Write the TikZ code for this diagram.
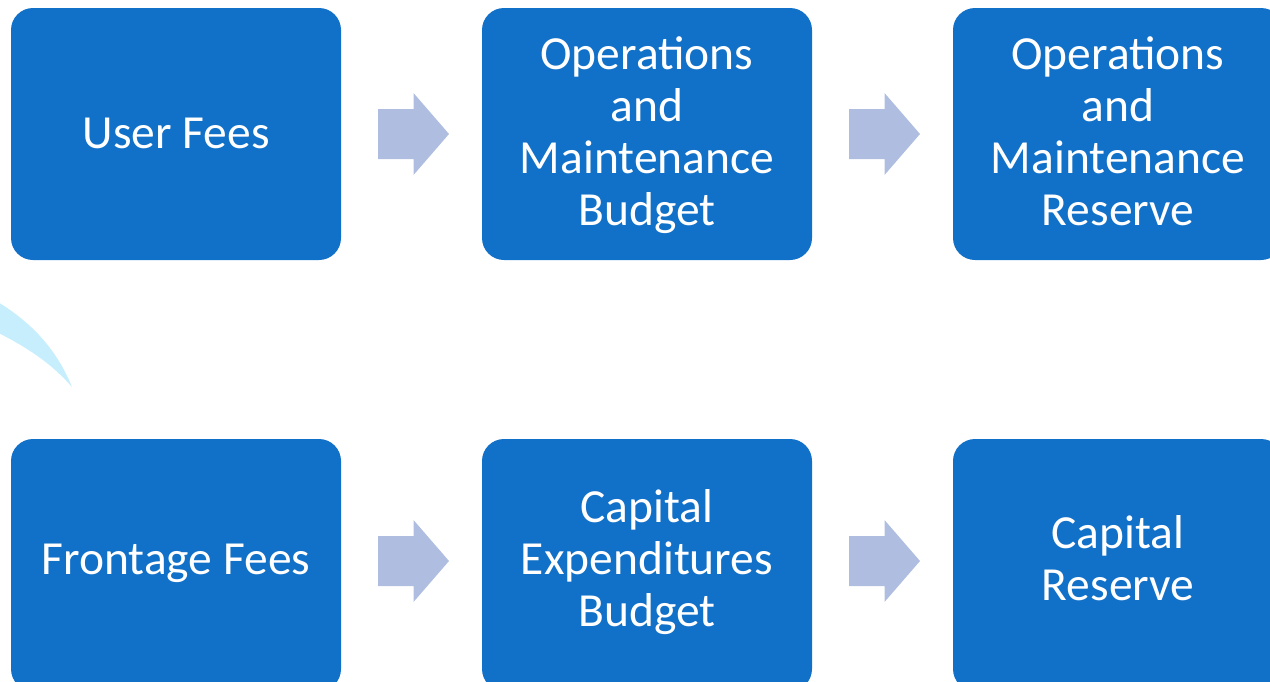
\documentclass[tikz,border=0pt]{standalone}
\usepackage{fontspec}
\setmainfont{Carlito}
\usetikzlibrary{calc}
\definecolor{boxblue}{HTML}{1170C8}
\definecolor{arrowfill}{HTML}{AEBDE0}
\definecolor{swoosh}{HTML}{C7EEFC}
\begin{document}
\begin{tikzpicture}[x=1pt,y=-1pt,
  box/.style={draw=none, fill=boxblue, rounded corners=22pt, minimum width=330pt, minimum height=252pt, inner sep=0pt, outer sep=0pt},
  txt/.style={text=white, align=center, inner sep=0pt, anchor=base, font=\fontsize{47.5}{51.8}\selectfont}]
\useasboundingbox (0,0) rectangle (1270,681);
\clip (0,0) rectangle (1270,681);
% light swoosh at left
\fill[swoosh] (-20,292) .. controls (25,315) and (55,345) .. (72,387) .. controls (50,362) and (25,345) .. (-20,324) -- cycle;
% top row
\node[box] (b1) at (176,134) {};
\node[box] (b2) at (647,134) {};
\node[box] (b3) at (1118,134) {};
\node[txt] (t1) at (176,148) {User Fees};
\node[txt] (t2) at (647,225) {Operations\\and\\Maintenance\\Budget};
\node[txt] (t3) at (1118,225) {Operations\\and\\Maintenance\\Reserve};
% bottom row
\node[box] (b4) at (176,565) {};
\node[box] (b5) at (647,565) {};
\node[box] (b6) at (1118,565) {};
\node[txt] (t4) at (176,574) {Frontage Fees};
\node[txt] (t5) at (647,626) {Capital\\Expenditures\\Budget};
\node[txt] (t6) at (1118,600.5) {Capital\\Reserve};
% block arrows
\coordinate (a1) at ($(b1.east)!0.5!(b2.west)+(2,0)$);
\coordinate (a2) at ($(b2.east)!0.5!(b3.west)+(2,0)$);
\coordinate (a3) at ($(b4.east)!0.5!(b5.west)+(2,-4)$);
\coordinate (a4) at ($(b5.east)!0.5!(b6.west)+(2,-4)$);
\foreach \c in {a1,a2,a3,a4}{
  \fill[arrowfill] ($(\c)+(-35.5,-25)$) -- ($(\c)+(0,-25)$) -- ($(\c)+(0,-41)$) -- ($(\c)+(35.5,0)$)
    -- ($(\c)+(0,41)$) -- ($(\c)+(0,25)$) -- ($(\c)+(-35.5,25)$) -- cycle;
}
\end{tikzpicture}
\end{document}
